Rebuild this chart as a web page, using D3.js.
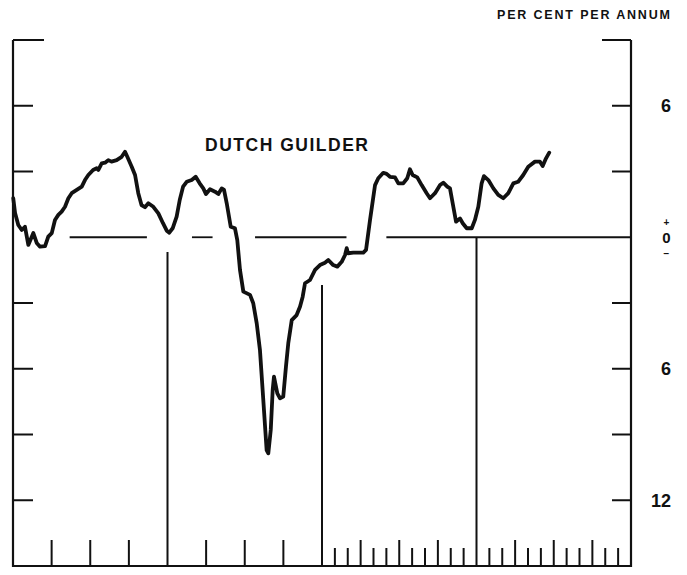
<!DOCTYPE html>
<meta charset="utf-8">

<style type="text/css">
	body { margin: 0; background: #ffffff; }
	svg { display: block; }
	text { font-family: "Liberation Sans", Arial, sans-serif; font-weight: bold; fill: #111; }
</style>

<body>
	<div id="chartCt"></div>
</body>

<!-- Load in the d3 library -->
<script src="https://d3js.org/d3.v7.min.js"></script>
<script>
	// months since the start of the chart (4 years, 48 months)
	const months = [0.02, 0.16, 0.41, 0.68, 0.93, 1.19, 1.58, 1.84, 2.10, 2.49, 2.74, 3.01, 3.26, 3.52, 3.78, 4.04, 4.30, 4.56, 4.95, 5.34,
		5.59, 5.85, 6.22, 6.50, 6.63, 6.89, 7.15, 7.40, 7.65, 8.05, 8.44, 8.70, 8.88, 9.22, 9.48, 9.73, 9.98, 10.25, 10.51, 10.90,
		11.29, 11.65, 11.94, 12.14, 12.40, 12.71, 12.95, 13.21, 13.49, 13.88, 14.19, 14.50, 14.78, 14.99, 15.30, 15.69, 15.95, 16.21, 16.39, 16.60,
		16.91, 17.24, 17.42, 17.63, 17.89, 18.41, 18.66, 18.93, 19.18, 19.44, 19.70, 19.83, 20.02, 20.17, 20.27, 20.53, 20.74, 20.99, 21.20, 21.38,
		21.65, 22.03, 22.29, 22.50, 22.68, 23.07, 23.46, 23.84, 24.23, 24.49, 24.87, 25.19, 25.53, 25.79, 25.92, 26.02, 26.43, 27.21, 27.42, 27.73,
		28.12, 28.37, 28.76, 29.02, 29.28, 29.67, 29.93, 30.31, 30.62, 30.83, 31.04, 31.40, 31.74, 32.13, 32.39, 32.78, 33.17, 33.42, 33.73, 33.94,
		34.15, 34.41, 34.72, 34.93, 35.24, 35.63, 35.88, 36.14, 36.40, 36.58, 36.92, 37.31, 37.69, 38.08, 38.47, 38.86, 39.23, 39.63, 40.02, 40.54,
		40.93, 41.14, 41.40, 41.65];
	// Dutch guilder, per cent per annum
	const guilder = [1.78, 1.11, 0.56, 0.33, 0.48, -0.35, 0.19, -0.26, -0.43, -0.40, 0.03, 0.19, 0.79, 1.02, 1.17, 1.39, 1.78, 2.01, 2.16, 2.31,
		2.61, 2.84, 3.07, 3.15, 3.07, 3.37, 3.40, 3.52, 3.45, 3.52, 3.67, 3.90, 3.67, 3.22, 2.84, 2.01, 1.47, 1.37, 1.55, 1.39,
		1.09, 0.64, 0.30, 0.21, 0.41, 0.94, 1.70, 2.31, 2.53, 2.61, 2.76, 2.46, 2.23, 1.97, 2.19, 2.08, 1.97, 2.23, 2.16, 1.55,
		0.48, 0.41, -0.13, -1.49, -2.48, -2.63, -3.01, -3.93, -5.14, -7.42, -9.71, -9.86, -8.79, -6.97, -6.36, -7.12, -7.35, -7.27, -5.91, -4.84,
		-3.78, -3.55, -3.17, -2.71, -2.10, -1.95, -1.49, -1.27, -1.16, -1.04, -1.27, -1.34, -1.12, -0.81, -0.50, -0.73, -0.70, -0.70, -0.58, 0.79,
		2.38, 2.69, 2.94, 2.89, 2.76, 2.73, 2.46, 2.46, 2.69, 3.10, 2.84, 2.73, 2.38, 2.01, 1.78, 2.01, 2.38, 2.49, 2.31, 2.23,
		1.55, 0.71, 0.86, 0.64, 0.41, 0.41, 0.79, 1.39, 2.46, 2.79, 2.61, 2.23, 1.93, 1.78, 2.01, 2.46, 2.53, 2.84, 3.22, 3.45,
		3.45, 3.25, 3.60, 3.86];

	// y ticks every 3 points, labels on the right
	const yTicks = [9, 6, 3, 0, -3, -6, -9, -12];
	const yLabelValues = [6, -6, -12];
	const yLabelText = ["6", "6", "12"];

	// year boundaries and where their drop lines start
	const yearMonths = [12, 24, 36];
	const yearLineTop = [-0.67, -2.18, 0];

	// pieces of the zero line (months)
	const zeroFrom = [4.4, 13.9, 18.8, 29.0];
	const zeroTo = [10.4, 15.5, 25.9, 48];

	const width = 687;
	const height = 575;

	const x = d3.scaleLinear().domain([0, 48]).range([13, 631]);
	const y = d3.scaleLinear().domain([9, -15]).range([40, 566]);

	const svg = d3.select("#chartCt")
		.append("svg")
		.attr("width", width)
		.attr("height", height);

	const ink = "#111";

	// frame: left, right and bottom axes
	svg.append("path")
		.attr("d", `M${x(0)},${y(9)} V${y(-15)} H${x(48)} V${y(9)}`)
		.attr("fill", "none")
		.attr("stroke", ink)
		.attr("stroke-width", 2.2);

	// left ticks (none at zero, the curve sits there)
	svg.selectAll(".ltick")
		.data(yTicks.filter(d => d !== 0))
		.enter().append("line")
		.attr("x1", x(0))
		.attr("x2", d => x(0) + (d === 9 ? 31 : 20))
		.attr("y1", d => y(d))
		.attr("y2", d => y(d))
		.attr("stroke", ink)
		.attr("stroke-width", 2);

	// right ticks
	svg.selectAll(".rtick")
		.data(yTicks.filter(d => d !== 0))
		.enter().append("line")
		.attr("x1", x(48))
		.attr("x2", d => x(48) - (d === 9 ? 29 : 19))
		.attr("y1", d => y(d))
		.attr("y2", d => y(d))
		.attr("stroke", ink)
		.attr("stroke-width", 2);

	// bottom ticks: quarters in the first two years, months after that
	const bottomTicks = d3.range(1, 48).filter(m => m % 12 !== 0 && (m >= 24 || m % 3 === 0));
	svg.selectAll(".btick")
		.data(bottomTicks)
		.enter().append("line")
		.attr("x1", d => x(d))
		.attr("x2", d => x(d))
		.attr("y1", y(-15))
		.attr("y2", d => y(-15) - (d % 3 === 0 ? 26 : 18))
		.attr("stroke", ink)
		.attr("stroke-width", 2);

	// year drop lines
	svg.selectAll(".yearline")
		.data(yearMonths)
		.enter().append("line")
		.attr("x1", d => x(d))
		.attr("x2", d => x(d))
		.attr("y1", (d, i) => y(yearLineTop[i]))
		.attr("y2", y(-15))
		.attr("stroke", ink)
		.attr("stroke-width", 2);

	// zero line, broken where the curve passes
	svg.selectAll(".zero")
		.data(zeroFrom)
		.enter().append("line")
		.attr("x1", d => x(d))
		.attr("x2", (d, i) => x(zeroTo[i]))
		.attr("y1", y(0))
		.attr("y2", y(0))
		.attr("stroke", ink)
		.attr("stroke-width", 1.8);

	// the series
	const line = d3.line()
		.x((d, i) => x(months[i]))
		.y(d => y(d));

	svg.append("path")
		.datum(guilder)
		.attr("d", line)
		.attr("fill", "none")
		.attr("stroke", ink)
		.attr("stroke-width", 3.8)
		.attr("stroke-linejoin", "round")
		.attr("stroke-linecap", "round");

	// right hand labels
	svg.selectAll(".ylabel")
		.data(yLabelValues)
		.enter().append("text")
		.attr("x", 671)
		.attr("y", d => y(d) + 6.5)
		.attr("text-anchor", "end")
		.attr("font-size", 18)
		.text((d, i) => yLabelText[i]);

	// + 0 - stacked at the zero line
	svg.append("text")
		.attr("x", 666.5)
		.attr("y", y(0) - 11)
		.attr("text-anchor", "middle")
		.attr("font-size", 10)
		.text("+");
	svg.append("text")
		.attr("x", 666.5)
		.attr("y", y(0) + 5.5)
		.attr("text-anchor", "middle")
		.attr("font-size", 15)
		.text("0");
	svg.append("text")
		.attr("x", 666.5)
		.attr("y", y(0) + 19.5)
		.attr("text-anchor", "middle")
		.attr("font-size", 10)
		.text("\u2212");

	svg.append("text")
		.attr("x", 497)
		.attr("y", 19)
		.attr("font-size", 12.5)
		.attr("textLength", 173)
		.attr("lengthAdjust", "spacing")
		.text("PER CENT PER ANNUM");

	svg.append("text")
		.attr("x", 205)
		.attr("y", 151)
		.attr("font-size", 17.5)
		.attr("textLength", 163)
		.attr("lengthAdjust", "spacing")
		.text("DUTCH GUILDER");
</script>
